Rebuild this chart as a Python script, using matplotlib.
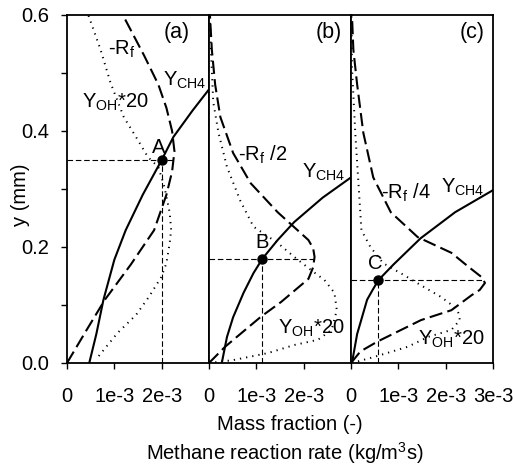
import matplotlib
matplotlib.use("Agg")
import matplotlib.pyplot as plt
import numpy as np

plt.rcParams['font.family'] = ['Liberation Sans', 'DejaVu Sans']
plt.rcParams['mathtext.fontset'] = 'custom'
plt.rcParams['mathtext.rm'] = 'Liberation Sans'
plt.rcParams['mathtext.it'] = 'Liberation Sans'
plt.rcParams['lines.scale_dashes'] = False

# mass fraction / reaction rate values are in units of 1e-3, y in mm
# panel (a)
ch4_a_x = [0.47, 0.62, 0.77, 1.0, 1.24, 1.6, 2.0, 2.25, 2.65, 3.04]
ch4_a_y = [0.0, 0.05, 0.109, 0.178, 0.229, 0.29, 0.35, 0.39, 0.435, 0.476]
rf_a_x = [0.0, 0.4, 0.8, 1.35, 1.84, 2.1, 2.22, 2.27, 2.22, 2.1, 1.93, 1.63, 1.18]
rf_a_y = [0.0, 0.055, 0.109, 0.17, 0.229, 0.29, 0.33, 0.365, 0.4, 0.44, 0.48, 0.53, 0.6]
oh_a_x = [0.67, 1.07, 1.46, 1.73, 1.99, 2.1, 2.17, 2.2, 2.17, 2.06, 1.93, 1.71, 1.5, 1.2, 0.92, 0.71, 0.45]
oh_a_y = [0.012, 0.052, 0.083, 0.114, 0.148, 0.172, 0.207, 0.23, 0.259, 0.303, 0.338, 0.355, 0.384, 0.424, 0.483, 0.54, 0.6]
pt_a = (2.0, 0.35)
cross_a = 2.27

# panel (b)
ch4_b_x = [0.27, 0.38, 0.51, 0.73, 0.94, 1.13, 1.45, 1.8, 2.4, 3.0]
ch4_b_y = [0.0, 0.045, 0.079, 0.121, 0.155, 0.18, 0.212, 0.243, 0.285, 0.32]
rf_b_x = [0.0, 0.34, 1.1, 1.52, 2.1, 2.2, 2.23, 2.2, 2.1, 1.45, 0.88, 0.51, 0.24, 0.13, 0.06, 0.02]
rf_b_y = [0.0, 0.028, 0.08, 0.105, 0.145, 0.165, 0.183, 0.198, 0.212, 0.26, 0.31, 0.362, 0.424, 0.48, 0.54, 0.6]
oh_b_x = [0.0, 0.51, 1.24, 1.8, 2.3, 2.59, 2.7, 2.65, 2.44, 2.16, 1.8, 1.45, 0.94, 0.66, 0.38, 0.2, 0.09, 0.04, 0.02]
oh_b_y = [0.0, 0.005, 0.017, 0.031, 0.04, 0.057, 0.091, 0.121, 0.143, 0.16, 0.183, 0.207, 0.235, 0.28, 0.338, 0.397, 0.45, 0.54, 0.6]
pt_b = (1.13, 0.18)
cross_b = 2.23

# panel (c)
ch4_c_x = [0.02, 0.13, 0.34, 0.45, 0.58, 0.9, 1.47, 2.2, 3.0]
ch4_c_y = [0.0, 0.05, 0.109, 0.125, 0.143, 0.17, 0.215, 0.26, 0.298]
rf_c_x = [0.0, 0.2, 0.56, 1.48, 2.12, 2.55, 2.72, 2.83, 2.76, 2.48, 2.12, 1.41, 0.84, 0.47, 0.26, 0.13, 0.05, 0.02]
rf_c_y = [0.0, 0.02, 0.037, 0.074, 0.091, 0.117, 0.126, 0.138, 0.148, 0.166, 0.19, 0.217, 0.26, 0.32, 0.397, 0.48, 0.54, 0.6]
oh_c_x = [0.02, 0.47, 1.2, 1.63, 2.12, 2.3, 2.27, 2.18, 1.9, 1.54, 1.11, 0.68, 0.41, 0.22, 0.09, 0.02, 0.01]
oh_c_y = [0.0, 0.01, 0.028, 0.045, 0.057, 0.074, 0.086, 0.097, 0.114, 0.131, 0.152, 0.172, 0.2, 0.229, 0.397, 0.51, 0.6]
pt_c = (0.58, 0.143)
cross_c = 2.82

panels = [
    ('(a)', ch4_a_x, ch4_a_y, rf_a_x, rf_a_y, oh_a_x, oh_a_y, pt_a, cross_a, 'A', '-$\\mathrm{R_f}$'),
    ('(b)', ch4_b_x, ch4_b_y, rf_b_x, rf_b_y, oh_b_x, oh_b_y, pt_b, cross_b, 'B', '-$\\mathrm{R_f}$ /2'),
    ('(c)', ch4_c_x, ch4_c_y, rf_c_x, rf_c_y, oh_c_x, oh_c_y, pt_c, cross_c, 'C', '-$\\mathrm{R_f}$ /4'),
]

# label positions (x in 1e-3, y in mm)
lab_pos = [
    dict(tag=(2.31, 0.569), rf=(1.16, 0.54), ch4=(2.48, 0.488), oh=(1.03, 0.45), pt=(1.93, 0.372)),
    dict(tag=(2.53, 0.569), rf=(1.13, 0.359), ch4=(2.42, 0.329), oh=(2.16, 0.06), pt=(1.13, 0.207)),
    dict(tag=(2.55, 0.569), rf=(1.15, 0.293), ch4=(2.37, 0.302), oh=(2.12, 0.04), pt=(0.51, 0.172)),
]

W, H = 513, 472
fig = plt.figure(figsize=(W / 100, H / 100), dpi=100)
fs = 14.5
s = 1e-3

for i, (tag, cx, cy, rx, ry, ox, oy, pt, cross, pname, rlab) in enumerate(panels):
    ax = fig.add_axes([(67 + 142 * i) / W, 1 - 363 / H, 142 / W, 348 / H])
    ax.plot(np.array(cx) * s, cy, color='black', lw=1.5)
    ax.plot(np.array(rx) * s, ry, color='black', lw=1.5, dashes=(9.5, 3.8))
    ax.plot(np.array(ox) * s, oy, color='black', lw=1.4, linestyle=(0, (0.9, 3.6)))
    # crosshair at the marked point
    ax.plot([0, cross * s], [pt[1], pt[1]], color='black', lw=0.8, dashes=(4, 2))
    ax.plot([pt[0] * s, pt[0] * s], [0, pt[1]], color='black', lw=0.8, dashes=(4, 2))
    ax.plot(pt[0] * s, pt[1], 'o', color='black', ms=6.5)

    p = lab_pos[i]
    ax.text(p['tag'][0] * s, p['tag'][1], tag, fontsize=fs + 1, ha='center', va='center')
    ax.text(p['rf'][0] * s, p['rf'][1], rlab, fontsize=fs, ha='center', va='center')
    ax.text(p['ch4'][0] * s, p['ch4'][1], '$\\mathrm{Y_{CH4}}$', fontsize=fs, ha='center', va='center')
    ax.text(p['oh'][0] * s, p['oh'][1], '$\\mathrm{Y_{OH}}$*20', fontsize=fs, ha='center', va='center')
    ax.text(p['pt'][0] * s, p['pt'][1], pname, fontsize=fs, ha='center', va='center')

    ax.set_xlim(0, 3e-3)
    ax.set_ylim(0, 0.6)
    if i < 2:
        ax.set_xticks([0, 1e-3, 2e-3])
        ax.set_xticklabels(['0', '1e-3', '2e-3'])
    else:
        ax.set_xticks([0, 1e-3, 2e-3, 3e-3])
        ax.set_xticklabels(['0', '1e-3', '2e-3', '3e-3'])
    ax.tick_params(axis='x', direction='out', length=4, width=1, labelsize=fs, pad=13)
    if i == 0:
        ax.set_yticks([0, 0.2, 0.4, 0.6])
        ax.set_yticklabels(['0.0', '0.2', '0.4', '0.6'])
        ax.set_yticks([0.1, 0.3, 0.5], minor=True)
        ax.tick_params(axis='y', which='both', direction='out', length=4, width=1, labelsize=fs, pad=9)
    else:
        ax.set_yticks([])
    for sp in ax.spines.values():
        sp.set_linewidth(1.3)

fig.text(20 / W, 1 - 195 / H, 'y (mm)', rotation=90, fontsize=fs, ha='center', va='center')
fig.text(290 / W, 1 - 424 / H, 'Mass fraction (-)', fontsize=fs, ha='center', va='center')
fig.text(285 / W, 1 - 453 / H, 'Methane reaction rate (kg/m$^\\mathrm{3}$s)', fontsize=fs, ha='center', va='center')

fig.savefig('out.png', dpi=100)
